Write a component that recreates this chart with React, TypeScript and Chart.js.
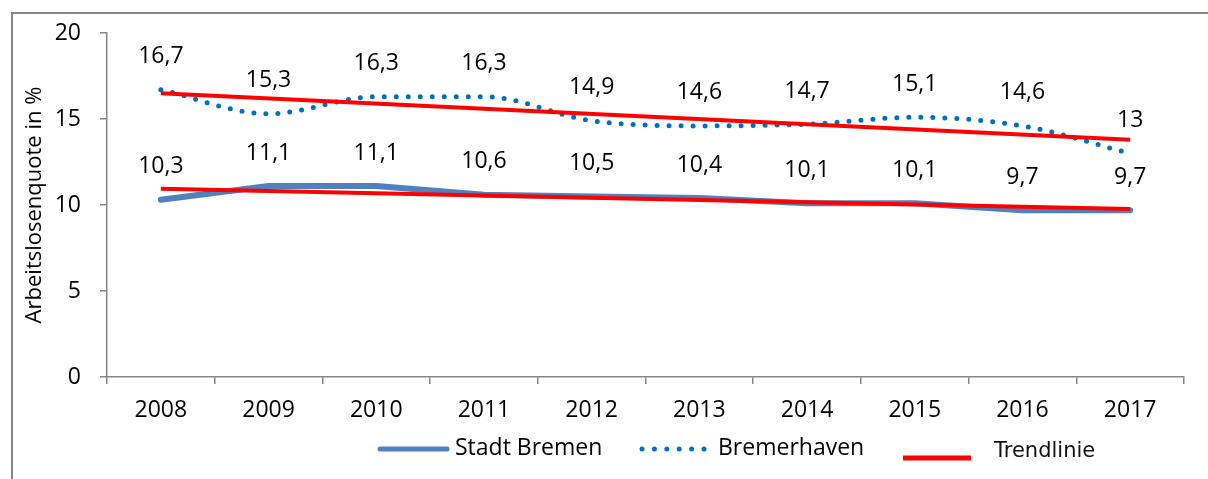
import React, { useEffect, useRef } from "react";
import { Chart, registerables } from "chart.js";

Chart.register(...registerables);

const years = ["2008", "2009", "2010", "2011", "2012", "2013", "2014", "2015", "2016", "2017"];
const stadtBremen = [10.3, 11.1, 11.1, 10.6, 10.5, 10.4, 10.1, 10.1, 9.7, 9.7];
const bremerhaven = [16.7, 15.3, 16.3, 16.3, 14.9, 14.6, 14.7, 15.1, 14.6, 13];
const trendBremerhaven = [16.5, null, null, null, null, null, null, null, null, 13.8];
const trendStadtBremen = [10.95, null, null, null, null, null, null, null, null, 9.77];
const labelBremerhaven = ["16,7", "15,3", "16,3", "16,3", "14,9", "14,6", "14,7", "15,1", "14,6", "13"];
const labelStadtBremen = ["10,3", "11,1", "11,1", "10,6", "10,5", "10,4", "10,1", "10,1", "9,7", "9,7"];
const yTicks = [0, 5, 10, 15, 20];

const FONT = "'Open Sans', sans-serif";
const BLUE = "#4F81BD";
const DOT_BLUE = "#0070C0";
const RED = "#FF0000";
const GRAY = "#868686";

const framePlugin = {
  id: "frame",
  beforeDraw(chart: any) {
    const ctx = chart.ctx;
    ctx.save();
    ctx.strokeStyle = GRAY;
    ctx.lineWidth = 2;
    ctx.beginPath();
    ctx.moveTo(12, chart.height);
    ctx.lineTo(12, 13);
    ctx.lineTo(chart.width, 13);
    ctx.stroke();
    ctx.restore();
  },
};

const labelsPlugin = {
  id: "valueLabels",
  afterDatasetsDraw(chart: any) {
    const ctx = chart.ctx;
    ctx.save();
    ctx.font = `23px ${FONT}`;
    ctx.fillStyle = "#000";
    ctx.textAlign = "center";
    ctx.textBaseline = "middle";
    chart.data.datasets.forEach((ds: any, i: number) => {
      if (!ds.valueLabels) return;
      const meta = chart.getDatasetMeta(i);
      meta.data.forEach((pt: any, j: number) => {
        ctx.fillText(ds.valueLabels[j], pt.x, pt.y - 33);
      });
    });
    ctx.restore();
  },
};

const legendPlugin = {
  id: "customLegend",
  afterDraw(chart: any) {
    const ctx = chart.ctx;
    ctx.save();
    // Stadt Bremen
    ctx.strokeStyle = BLUE;
    ctx.lineWidth = 5;
    ctx.lineCap = "round";
    ctx.beginPath();
    ctx.moveTo(380, 449);
    ctx.lineTo(447, 449);
    ctx.stroke();
    ctx.font = `23px ${FONT}`;
    ctx.fillStyle = "#000";
    ctx.textBaseline = "middle";
    ctx.textAlign = "left";
    ctx.fillText("Stadt Bremen", 455, 448);
    // Bremerhaven
    ctx.fillStyle = DOT_BLUE;
    for (let k = 0; k < 6; k++) {
      ctx.beginPath();
      ctx.arc(642 + k * 12.4, 449, 2.5, 0, Math.PI * 2);
      ctx.fill();
    }
    ctx.fillStyle = "#000";
    ctx.fillText("Bremerhaven", 718, 448);
    // Trendlinie
    ctx.strokeStyle = RED;
    ctx.lineWidth = 5;
    ctx.lineCap = "butt";
    ctx.beginPath();
    ctx.moveTo(903, 458);
    ctx.lineTo(971, 458);
    ctx.stroke();
    ctx.font = `21px 'DejaVu Sans', sans-serif`;
    ctx.fillStyle = "#111";
    ctx.fillText("Trendlinie", 994, 452);
    ctx.restore();
  },
};

export default function App() {
  const ref = useRef<HTMLCanvasElement | null>(null);
  useEffect(() => {
    document.body.style.margin = "0";
    const canvas = ref.current!;
    const chart = new Chart(canvas, {
      type: "line",
      data: {
        labels: years,
        datasets: [
          {
            label: "Trend Bremerhaven",
            data: trendBremerhaven,
            borderColor: RED,
            borderWidth: 4,
            pointRadius: 0,
            spanGaps: true,
            tension: 0,
            order: 0,
          } as any,
          {
            label: "Trend Stadt Bremen",
            data: trendStadtBremen,
            borderColor: RED,
            borderWidth: 4,
            pointRadius: 0,
            spanGaps: true,
            tension: 0,
            order: 0,
          } as any,
          {
            label: "Stadt Bremen",
            data: stadtBremen,
            borderColor: BLUE,
            borderWidth: 6,
            borderCapStyle: "round",
            borderJoinStyle: "round",
            pointRadius: 0,
            tension: 0,
            order: 1,
            valueLabels: labelStadtBremen,
          } as any,
          {
            label: "Bremerhaven",
            data: bremerhaven,
            borderColor: DOT_BLUE,
            borderWidth: 5,
            borderDash: [0, 12],
            borderCapStyle: "round",
            pointRadius: 0,
            cubicInterpolationMode: "monotone",
            order: 1,
            valueLabels: labelBremerhaven,
          } as any,
        ],
      },
      options: {
        animation: false,
        responsive: false,
        layout: { padding: { top: 33, left: 0, right: 24, bottom: 42 } },
        plugins: { legend: { display: false }, tooltip: { enabled: false } },
        scales: {
          x: {
            type: "category",
            offset: true,
            grid: { offset: true, drawOnChartArea: false, drawTicks: true, tickLength: 7, color: GRAY, lineWidth: 1.5 },
            border: { color: GRAY, width: 1.5 },
            ticks: { color: "#000", font: { family: FONT, size: 23 }, padding: 13, maxRotation: 0, autoSkip: false },
            afterFit: (s: any) => { s.height = 60; },
          },
          y: {
            min: 0,
            max: 20,
            afterBuildTicks: (s: any) => { s.ticks = yTicks.map((v) => ({ value: v })); },
            grid: { drawOnChartArea: false, drawTicks: true, tickLength: 7, color: GRAY, lineWidth: 1.5 },
            border: { color: GRAY, width: 1.5 },
            ticks: { color: "#000", font: { family: FONT, size: 23 }, padding: 19 },
            title: {
              display: true,
              text: "Arbeitslosenquote in %",
              color: "#000",
              font: { family: FONT, size: 22 },
              padding: { top: 22, bottom: 0 },
            },
            afterFit: (s: any) => { s.width = 107; },
          },
        },
      } as any,
      plugins: [framePlugin, labelsPlugin, legendPlugin],
    });
    return () => chart.destroy();
  }, []);
  return (
    <div style={{ width: 1208, height: 479 }}>
      <canvas ref={ref} width={1208} height={479} style={{ display: "block", width: 1208, height: 479 }} />
    </div>
  );
}
